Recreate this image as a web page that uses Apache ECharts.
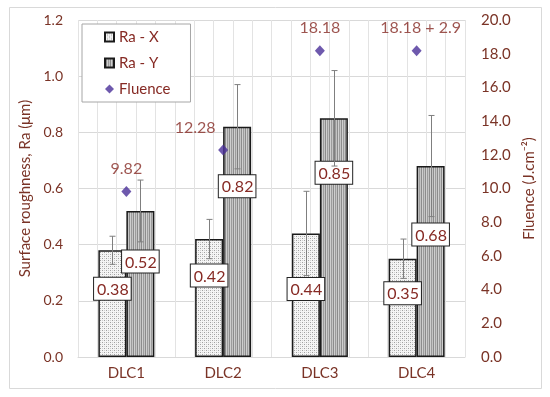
<!DOCTYPE html>
<html><head><meta charset="utf-8">
<script src="https://cdn.jsdelivr.net/npm/echarts@6/dist/echarts.min.js"></script>
<style>html,body{margin:0;padding:0;background:#fff}#c{width:550px;height:397px}</style>
</head><body><div id="c"></div>
<script>
// ---- data ----
const categories = ['DLC1', 'DLC2', 'DLC3', 'DLC4'];
const raX = [0.38, 0.42, 0.44, 0.35];
const raXErr = [0.05, 0.07, 0.15, 0.07];
const raY = [0.52, 0.82, 0.85, 0.68];
const raYErr = [0.11, 0.15, 0.17, 0.18];
const fluence = [9.82, 12.28, 18.18, 18.18];
const fluenceLabels = ['9.82', '12.28', '18.18', '18.18 + 2.9'];
const leftTicks = [0, 1.2, 0.2];
const rightTicks = [0, 20, 2];

// ---- styles ----
const FONT = 'Lato';
const AX = '#7a3326';
const LB = '#862a24';
const BAR_W = 28;
const xLabelDrop = [40, 38, 57, 36];
const yLabelDrop = [52, 61, 56, 70];
const fluShiftX = [0, -28, 0, 4];

function makeDots() {
  const c = document.createElement('canvas'); c.width = 4; c.height = 4;
  const g = c.getContext('2d');
  g.fillStyle = '#f5f5f5'; g.fillRect(0, 0, 4, 4);
  g.fillStyle = '#a0a0a0'; g.fillRect(0, 0, 1, 1); g.fillRect(2, 2, 1, 1);
  g.fillStyle = '#d0d0d0'; g.fillRect(2, 0, 1, 1); g.fillRect(0, 2, 1, 1);
  return c;
}
function makeStripes() {
  const c = document.createElement('canvas'); c.width = 4; c.height = 4;
  const g = c.getContext('2d');
  const cols = ['#c4c4c4', '#8c8c8c', '#cfcfcf', '#9c9c9c'];
  cols.forEach((col, i) => { g.fillStyle = col; g.fillRect(i, 0, 1, 4); });
  return c;
}
const dotFill = { image: makeDots(), repeat: 'repeat' };
const stripeFill = { image: makeStripes(), repeat: 'repeat' };

const boxLabel = {
  show: true, position: 'insideTop', distance: 0,
  formatter: p => p.value.toFixed(2),
  fontFamily: FONT, fontSize: 16, color: LB,
  backgroundColor: '#fff', borderColor: '#222', borderWidth: 1,
  padding: [4, 2, 2, 3]
};

function barData(vals, drops) {
  return vals.map((v, i) => ({ value: v, label: { offset: [0, drops[i] - 12.5] } }));
}

function errSeries(vals, errs, shift) {
  return {
    type: 'custom', xAxisIndex: 0, yAxisIndex: 0, z: 3, silent: true,
    data: vals.map((v, i) => [i, v, errs[i]]),
    renderItem: (params, api) => {
      const i = api.value(0), v = api.value(1), e = api.value(2);
      const t = api.coord([i, v + e]), b = api.coord([i, v - e]);
      const x = Math.round(t[0] + shift) + 0.5;
      const st = { stroke: '#7f7f7f', lineWidth: 1 };
      return {
        type: 'group', children: [
          { type: 'line', shape: { x1: x, y1: t[1], x2: x, y2: b[1] }, style: st },
          { type: 'line', shape: { x1: x - 3, y1: t[1], x2: x + 3, y2: t[1] }, style: st },
          { type: 'line', shape: { x1: x - 3, y1: b[1], x2: x + 3, y2: b[1] }, style: st }
        ]
      };
    }
  };
}

const chart = echarts.init(document.getElementById('c'), null, { renderer: 'canvas' });
chart.setOption({
  animation: false,
  backgroundColor: '#fff',
  textStyle: { fontFamily: FONT },
  graphic: [{
    type: 'rect', left: 7, top: 5, z: -10,
    shape: { width: 532, height: 381 },
    style: { fill: 'none', stroke: '#d9d9d9', lineWidth: 1 }
  }],
  grid: { left: 78, right: 85, top: 20, bottom: 40 },
  legend: {
    orient: 'vertical', left: 82, top: 24,
    backgroundColor: '#fff', borderColor: '#a6a6a6', borderWidth: 1,
    padding: [4, 20, 4, 22], itemGap: 8, itemWidth: 9, itemHeight: 9,
    textStyle: { fontFamily: FONT, fontSize: 15, color: LB, lineHeight: 18 },
    data: [
      { name: 'Ra - X', icon: 'rect' },
      { name: 'Ra - Y', icon: 'rect' },
      { name: 'Fluence', icon: 'diamond' }
    ]
  },
  xAxis: [{
    type: 'category', data: categories,
    axisLine: { lineStyle: { color: '#d9d9d9' } },
    axisTick: { show: false },
    axisLabel: { fontFamily: FONT, fontSize: 15, color: AX, margin: 9 },
    splitLine: { show: false }
  }, {
    type: 'value', min: 0, max: 20, interval: 1, position: 'top',
    axisLine: { show: false }, axisTick: { show: false }, axisLabel: { show: false },
    splitLine: { show: true, lineStyle: { color: '#e3e3e3' } }
  }],
  yAxis: [{
    type: 'value', min: leftTicks[0], max: leftTicks[1], interval: leftTicks[2],
    name: 'Surface roughness, Ra (μm)', nameLocation: 'middle', nameGap: 42,
    nameTextStyle: { fontFamily: FONT, fontSize: 15, color: AX },
    axisLine: { show: false }, axisTick: { show: false },
    axisLabel: { fontFamily: FONT, fontSize: 14, color: AX, margin: 15, formatter: v => v.toFixed(1) },
    splitLine: { lineStyle: { color: '#d9d9d9' } }
  }, {
    type: 'value', min: rightTicks[0], max: rightTicks[1], interval: rightTicks[2], position: 'right',
    name: 'Fluence (J.cm⁻²)', nameLocation: 'middle', nameGap: 55, nameRotate: 90,
    nameTextStyle: { fontFamily: FONT, fontSize: 15, color: AX },
    axisLine: { show: false }, axisTick: { show: false },
    axisLabel: { fontFamily: FONT, fontSize: 15, color: AX, margin: 16, formatter: v => v.toFixed(1) },
    splitLine: { show: false }
  }],
  series: [{
    name: 'Ra - X', type: 'bar', xAxisIndex: 0, yAxisIndex: 0,
    barWidth: BAR_W, barGap: '0%',
    itemStyle: { color: dotFill, borderColor: '#1a1a1a', borderWidth: 1.5 },
    label: boxLabel,
    data: barData(raX, xLabelDrop)
  }, {
    name: 'Ra - Y', type: 'bar', xAxisIndex: 0, yAxisIndex: 0,
    barWidth: BAR_W, barGap: '0%',
    itemStyle: { color: stripeFill, borderColor: '#1a1a1a', borderWidth: 1.5 },
    label: boxLabel,
    data: barData(raY, yLabelDrop)
  },
  errSeries(raX, raXErr, -BAR_W / 2),
  errSeries(raY, raYErr, BAR_W / 2),
  {
    name: 'Fluence', type: 'scatter', xAxisIndex: 0, yAxisIndex: 1, z: 5,
    symbol: 'diamond', symbolSize: [10, 11],
    itemStyle: { color: '#4a2f98' },
    label: { show: true, position: 'top', distance: 9, fontFamily: FONT, fontSize: 16, color: LB },
    data: fluence.map((v, i) => ({
      value: v,
      label: { formatter: fluenceLabels[i], offset: [fluShiftX[i], 0] }
    }))
  }]
});
</script></body></html>
